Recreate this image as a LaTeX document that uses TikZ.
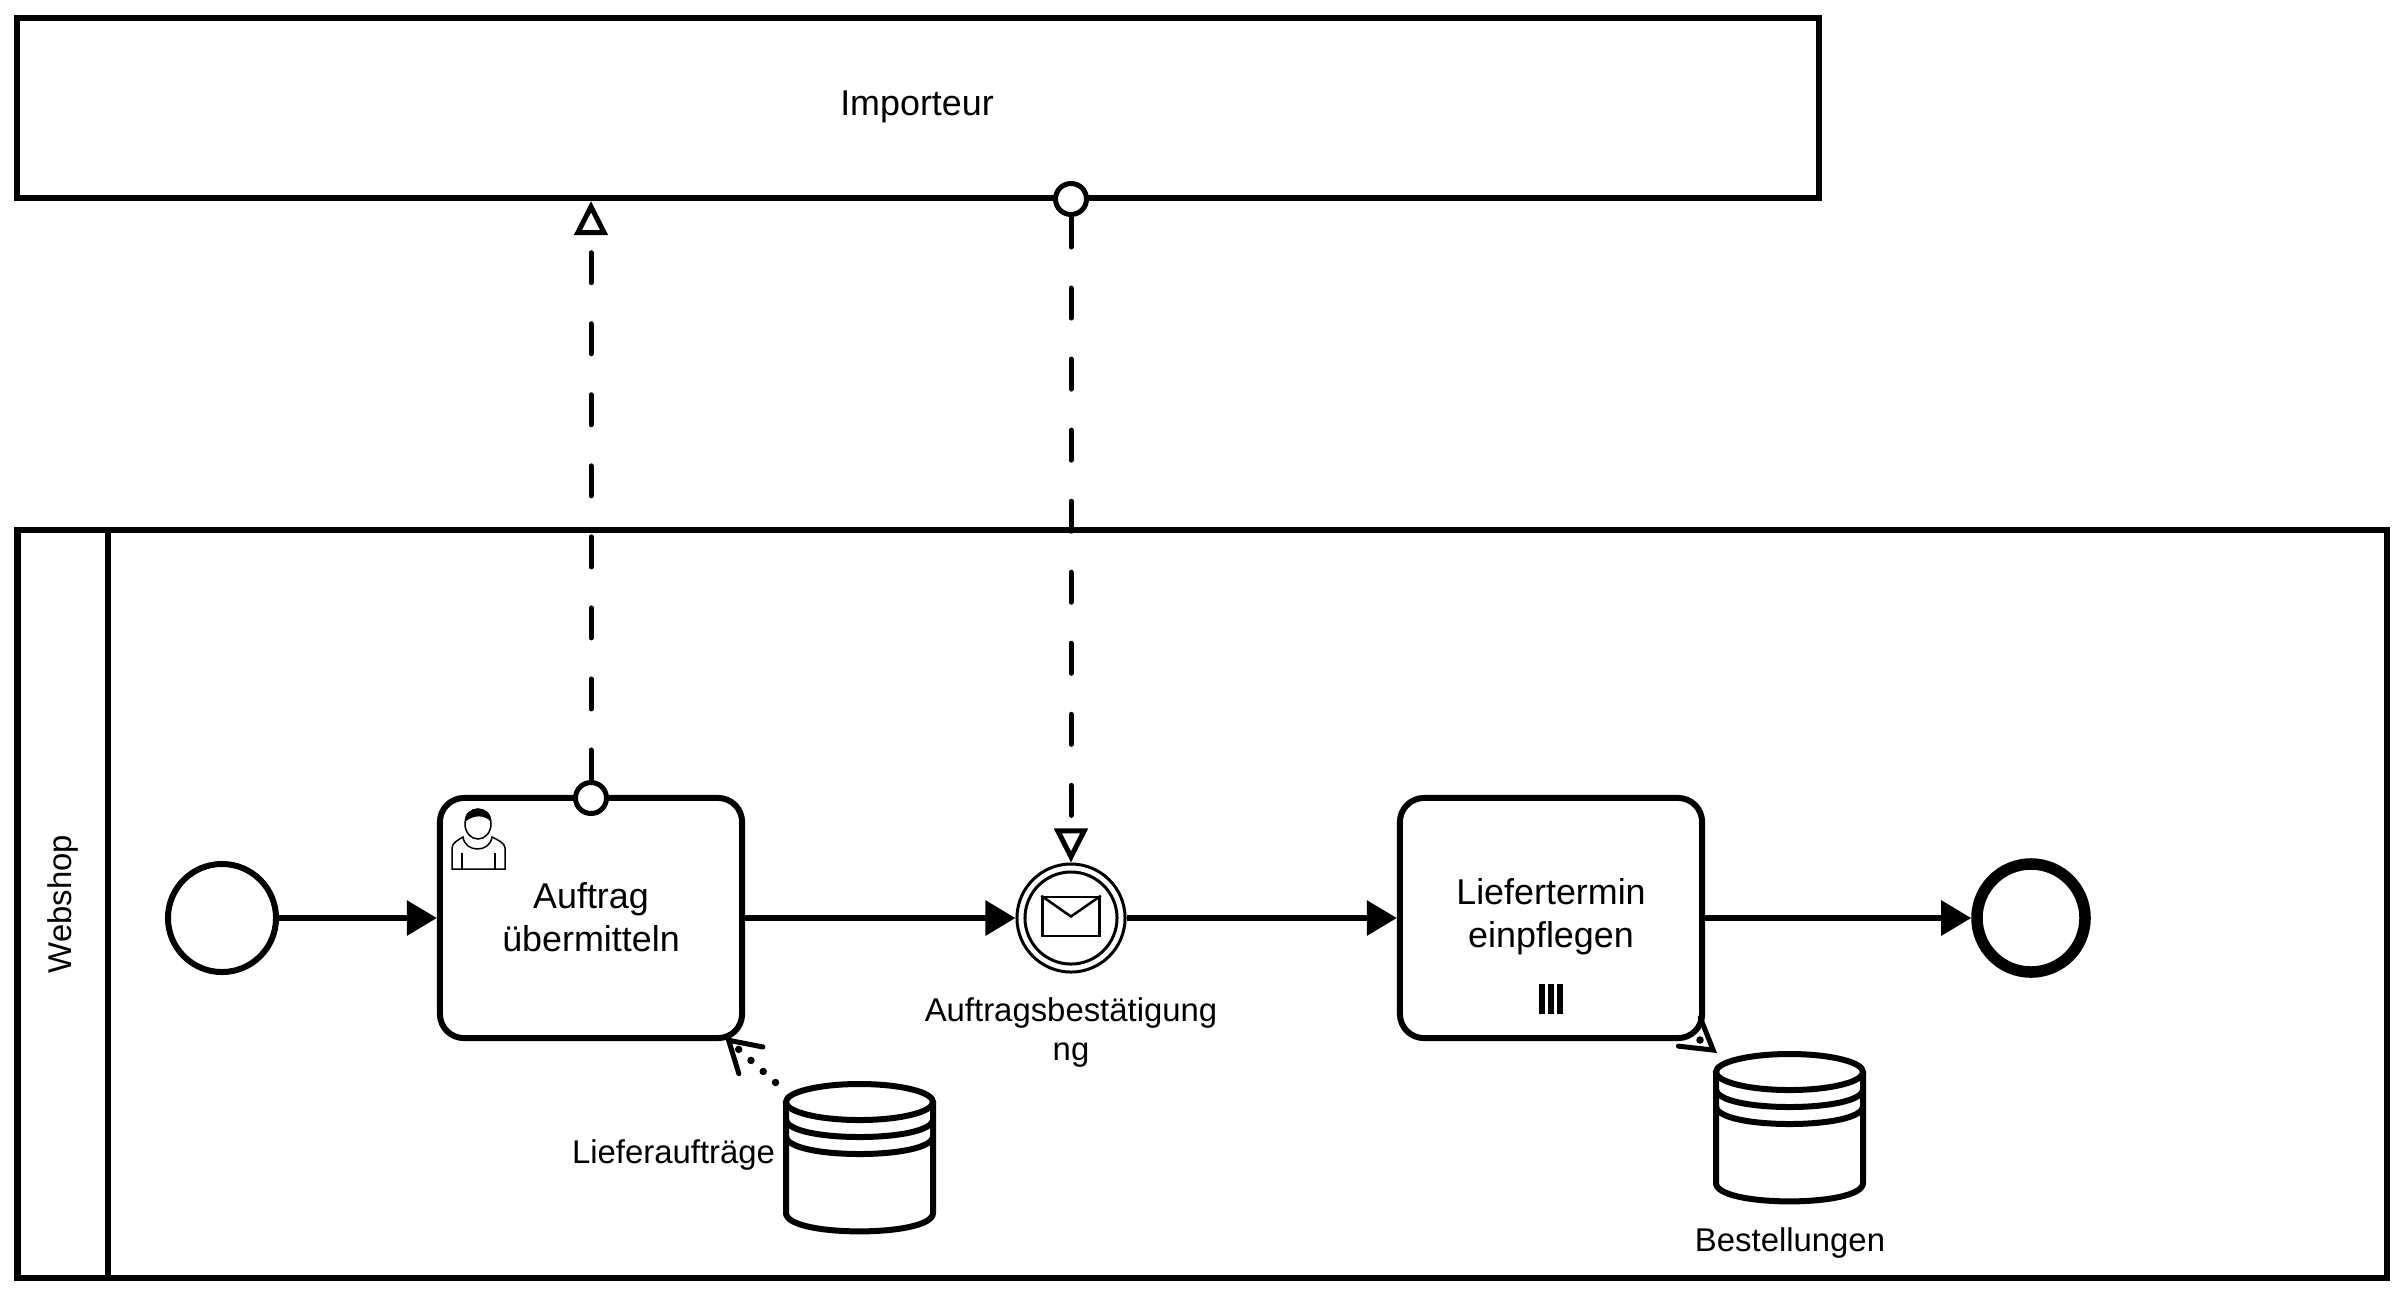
\documentclass[tikz,border=0pt]{standalone}
\usepackage{fontspec}
\setmainfont{Liberation Sans}
\usetikzlibrary{arrows.meta, positioning, shapes.geometric}

\begin{document}
\begin{tikzpicture}[
        x=0.01cm, y=-0.01cm,
        line width=0.06cm,
        font=\fontsize{10.2}{12.2}\selectfont,
        seqflow/.style={-{Triangle[length=0.30cm, width=0.34cm]}},
        msgflow/.style={line width=0.05cm, line cap=round, dash pattern=on 0.30cm off 0.41cm, -{Triangle[open, fill=white, length=0.34cm, width=0.33cm, line width=0.05cm]}},
        assoc/.style={line width=0.075cm, line cap=round, dash pattern=on 0pt off 0.165cm, -{Straight Barb[length=0.30cm, width=0.36cm, line width=0.05cm, line cap=round]}},
        pool/.style={rectangle, draw=black, fill=white, inner sep=0pt},
        task/.style={rectangle, rounded corners=0.24cm, draw=black, fill=white, minimum width=3.02cm, minimum height=2.40cm, align=center, inner sep=0pt},
        event/.style={circle, draw=black, fill=white, minimum size=1.08cm, inner sep=0pt},
        small_label/.style={font=\fontsize{9.35}{11.1}\selectfont, inner sep=0pt, align=center},
        datastore/.pic={
            \draw[fill=white] (-73.5,-56.5) -- (-73.5,54.5) .. controls (-73.5,79) and (73.5,79) .. (73.5,54.5) -- (73.5,-56.5);
            \draw[fill=white] (0,-56.5) ellipse [x radius=0.735cm, y radius=0.18cm];
            \foreach \y in {-39.5,-22.5}
                \draw (-73.5,\y) .. controls (-73.5,\y+24) and (73.5,\y+24) .. (73.5,\y);
            \coordinate (-out) at (-84,-76);
            \coordinate (-nw) at (-72.5,-75.5);
        }
    ]
        \useasboundingbox (0,0) rectangle (2403,1296);

        % Pools
        \node[pool, minimum width=18.00cm, minimum height=1.80cm] (Importeur) at (918,108) {};
        \node[inner sep=0pt] (ImporteurText) at (917,106.5) {Importeur};
        \node[pool, minimum width=23.68cm, minimum height=7.48cm] (Webshop) at (1202,904) {};
        \node[pool, minimum width=7.48cm, minimum height=0.90cm, rotate=90] (WebshopHead) at (63,904) {\fontsize{9.35}{11.1}\selectfont Webshop};

        % Ereignisse und Aufgaben
        \node[event] (Start) at (222,918) {};
        \node[task] (Auftrag) at (591,918) {};
        \node[inner sep=0pt, align=center] (AuftragText) at (591,917) {Auftrag\\übermitteln};
        \node[event, minimum size=1.08cm, line width=0.03cm] (Zwischen) at (1071,918) {};
        \node[circle, draw=black, line width=0.03cm, minimum size=0.92cm, inner sep=0pt] (ZwischenInnen) at (Zwischen) {};
        \node[task] (Liefer) at (1551,918) {};
        \node[inner sep=0pt, align=center] (LieferText) at (1551,917) {Liefertermin\\einpflegen};
        \node[event, line width=0.115cm] (Ende) at (2031,918) {};

        % Umschlag
        \node[rectangle, draw=black, fill=white, line width=0.025cm, minimum width=0.57cm, minimum height=0.39cm, inner sep=0pt] (Umschlag) at (1071,916.5) {};
        \draw[line width=0.025cm] (Umschlag.north west) -- (Umschlag.center) -- (Umschlag.north east);

        % Parallel-Markierung
        \foreach \x in {1542,1551,1560}
            \fill (\x-3,984) rectangle (\x+3,1014);

        % Benutzer-Symbol
        \draw[line width=0.015cm, fill=white] (452,869) -- (452,848) .. controls (452,843) and (458,840) .. (463,837) .. controls (465,853) and (490,853) .. (492,837) .. controls (498,840) and (505,843) .. (505,848) -- (505,869) -- cycle;
        \draw[line width=0.015cm] (462,853) -- (462,869) (495,853) -- (495,869);
        \draw[line width=0.015cm, fill=white] (478,824) ellipse [x radius=0.13cm, y radius=0.15cm];
        \fill (465,822) .. controls (463,804) and (493,804) .. (491,822) .. controls (485,814) and (472,815) .. (465,822) -- cycle;

        % Datenspeicher
        \pic (DSa) at (859.5,1158.5) {datastore};
        \pic (DSb) at (1789.5,1128.5) {datastore};

        % Beschriftungen
        \node[small_label, anchor=east] (DSaText) at (778,1155) {Lieferaufträge};
        \node[small_label] (DSbText) at (1790,1243) {Bestellungen};
        \node[small_label] (ZwischenText) at (1071,1032) {Auftragsbestätigung\\ng};

        % Sequenzflüsse
        \foreach \a/\b in {Start/Auftrag, Auftrag/Zwischen, Zwischen/Liefer, Liefer/Ende}
            \draw[seqflow] (\a) -- (\b);

        % Nachrichtenflüsse
        \node[circle, draw=black, fill=white, line width=0.05cm, minimum size=0.31cm, inner sep=0pt] (MsgAb) at (591,798) {};
        \node[circle, draw=black, fill=white, line width=0.05cm, minimum size=0.31cm, inner sep=0pt] (MsgEin) at (1071,199) {};
        \draw[msgflow] (MsgAb.north) -- (MsgAb.north |- Importeur.south);
        \draw[msgflow] (MsgEin.south) -- (ZwischenInnen.north |- Zwischen.north);

        % Datenassoziationen
        \coordinate (LieferEcke) at (1700,1040);
        \coordinate (AuftragEcke) at (725,1037);
        \draw[assoc] (DSa-out) -- (AuftragEcke);
        \draw[assoc] (LieferEcke) -- (DSb-nw);

    \end{tikzpicture}
\end{document}
